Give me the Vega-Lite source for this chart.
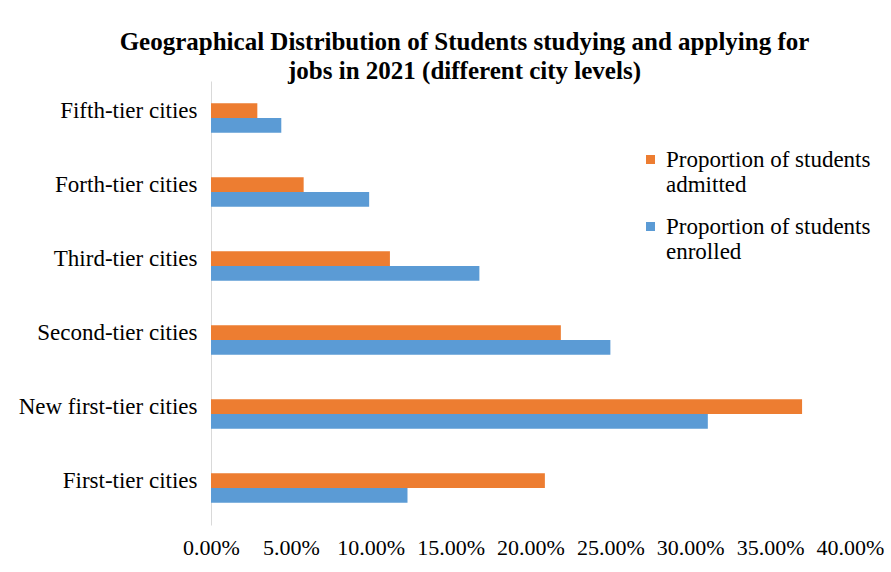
{
  "$schema": "https://vega.github.io/schema/vega-lite/v6.json",
  "width": 639,
  "height": 444,
  "autosize": {"type": "none"},
  "padding": {"left": 211, "top": 81, "right": 41, "bottom": 47},
  "background": "white",
  "title": {
    "text": ["Geographical Distribution of Students studying and applying for", "jobs in 2021 (different city levels)"],
    "font": "Liberation Serif",
    "fontSize": 25,
    "fontWeight": "bold",
    "color": "#000000",
    "anchor": "middle",
    "frame": "group",
    "dx": -66,
    "baseline": "bottom",
    "lineHeight": 29,
    "offset": -28
  },
  "data": {
    "values": [
      {"city": "Fifth-tier cities", "series": "Proportion of students admitted", "share": 0.029},
      {"city": "Fifth-tier cities", "series": "Proportion of students enrolled", "share": 0.044},
      {"city": "Forth-tier cities", "series": "Proportion of students admitted", "share": 0.058},
      {"city": "Forth-tier cities", "series": "Proportion of students enrolled", "share": 0.099},
      {"city": "Third-tier cities", "series": "Proportion of students admitted", "share": 0.112},
      {"city": "Third-tier cities", "series": "Proportion of students enrolled", "share": 0.168},
      {"city": "Second-tier cities", "series": "Proportion of students admitted", "share": 0.219},
      {"city": "Second-tier cities", "series": "Proportion of students enrolled", "share": 0.250},
      {"city": "New  first-tier cities", "series": "Proportion of students admitted", "share": 0.370},
      {"city": "New  first-tier cities", "series": "Proportion of students enrolled", "share": 0.311},
      {"city": "First-tier cities", "series": "Proportion of students admitted", "share": 0.209},
      {"city": "First-tier cities", "series": "Proportion of students enrolled", "share": 0.123}
    ]
  },
  "mark": {"type": "bar"},
  "encoding": {
    "y": {
      "field": "city",
      "type": "nominal",
      "sort": ["Fifth-tier cities", "Forth-tier cities", "Third-tier cities", "Second-tier cities", "New  first-tier cities", "First-tier cities"],
      "scale": {"paddingInner": 0.6, "paddingOuter": 0.3},
      "axis": {
        "title": null,
        "ticks": false,
        "labelFont": "Liberation Serif",
        "labelFontSize": 23,
        "labelColor": "#000000",
        "labelPadding": 14,
        "labelOffset": -7,
        "labelLimit": 300,
        "domainColor": "#d9d9d9",
        "domainWidth": 1
      }
    },
    "yOffset": {
      "field": "series",
      "type": "nominal",
      "sort": ["Proportion of students admitted", "Proportion of students enrolled"]
    },
    "x": {
      "field": "share",
      "type": "quantitative",
      "scale": {"domain": [0, 0.4], "nice": false},
      "axis": {
        "title": null,
        "format": ".2%",
        "values": [0, 0.05, 0.1, 0.15, 0.2, 0.25, 0.3, 0.35, 0.4],
        "grid": false,
        "domain": false,
        "ticks": false,
        "labelFont": "Liberation Serif",
        "labelFontSize": 22,
        "labelColor": "#000000",
        "labelPadding": 12,
        "labelFlush": false
      }
    },
    "color": {
      "field": "series",
      "type": "nominal",
      "sort": ["Proportion of students admitted", "Proportion of students enrolled"],
      "scale": {"range": ["#ED7D31", "#5B9BD5"]},
      "legend": {
        "title": null,
        "orient": "none",
        "legendX": 428,
        "legendY": 67,
        "symbolType": "square",
        "symbolSize": 81,
        "symbolStrokeWidth": 0,
        "labelFont": "Liberation Serif",
        "labelFontSize": 23,
        "labelColor": "#000000",
        "labelLimit": 300,
        "labelOffset": 4,
        "rowPadding": 18,
        "labelExpr": "datum.label == 'Proportion of students admitted' ? ['Proportion of students', 'admitted'] : ['Proportion of students', 'enrolled']"
      }
    }
  },
  "config": {"view": {"stroke": null}}
}
